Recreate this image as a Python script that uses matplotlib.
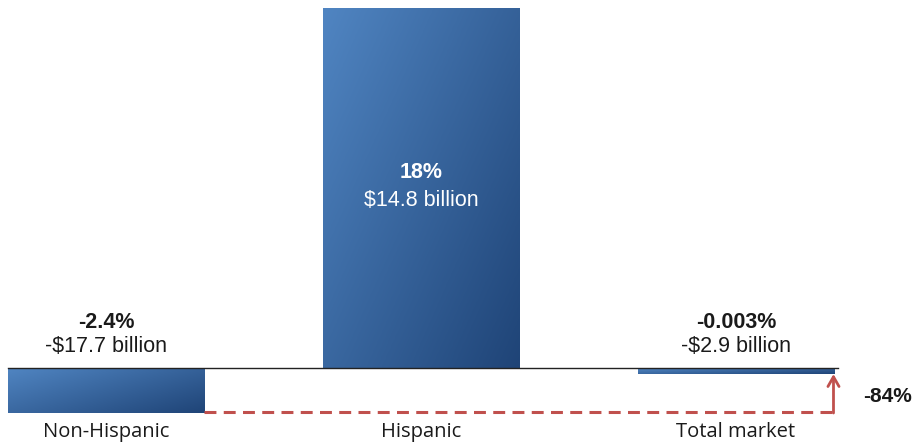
import numpy as np
import matplotlib
matplotlib.use("Agg")
import matplotlib.pyplot as plt
from matplotlib.colors import LinearSegmentedColormap

categories = ["Non-Hispanic", "Hispanic", "Total market"]
bar_heights = [-2.25, 18.0, -0.28]          # bar lengths as drawn (percent-ish scale)
pct_labels = ["-2.4%", "18%", "-0.003%"]
dollar_labels = ["-$17.7 billion", "$14.8 billion", "-$2.9 billion"]
gap_label = "-84%"

W, H = 914, 445
fig = plt.figure(figsize=(W / 100, H / 100), dpi=100)
ax = fig.add_axes([0, 0, 1, 1])
ax.axis("off")

val_font = ["Liberation Sans", "DejaVu Sans"]
cat_font = ["Open Sans", "DejaVu Sans"]

cmap = LinearSegmentedColormap.from_list("g", ["#5085C2", "#1F4477"])
width = 0.625
x = np.arange(len(categories))
bars = ax.bar(x, bar_heights, width=width, color="none", edgecolor="none", zorder=2)

# gradient fill per bar (top-left light -> bottom-right dark)
gy, gx = np.mgrid[0:1:200j, 0:1:200j]
grad = (gx * 0.55 + gy * 0.45)
for b in bars:
    x0, y0 = b.get_x(), min(b.get_y(), b.get_y() + b.get_height())
    x1, y1 = x0 + b.get_width(), max(b.get_y(), b.get_y() + b.get_height())
    im = ax.imshow(grad, cmap=cmap, extent=[x0, x1, y0, y1], origin="upper",
                   aspect="auto", zorder=2, vmin=0, vmax=1)
    im.set_clip_path(b)

ax.set_xlim(-106 / 315, (W - 106) / 315)
ax.set_ylim(-(H - 368) / 20, 368 / 20)

# baseline
ax.plot([-0.3125, 2.325], [0, 0], color="#222222", lw=1.0, zorder=3)

# dashed reference line and arrow
red = "#C0504D"
xr = x[2] + width / 2 - 0.003
ax.plot([x[0] + width / 2, xr], [-2.2, -2.2], color=red, lw=2.2,
        dashes=(3.9, 2.4), zorder=3)
ax.annotate("", xy=(xr, bar_heights[2] - 0.02), xytext=(xr, -2.2 - 0.05),
            arrowprops=dict(arrowstyle="->,head_length=0.7,head_width=0.4",
                            color=red, lw=2.0, shrinkA=0, shrinkB=0), zorder=4)
ax.text((888 - 106) / 315, (368 - 396) / 20, gap_label, ha="center", va="center",
        fontsize=15, fontweight="bold", color="#1a1a1a", family=val_font)

# value labels
for i in range(3):
    if bar_heights[i] > 0:
        c = "white"
        y_pct, y_dol = (368 - 172) / 20, (368 - 200) / 20
    else:
        c = "#1a1a1a"
        y_pct, y_dol = (368 - 322) / 20, (368 - 347) / 20
    ax.text(x[i], y_pct, pct_labels[i], ha="center", va="center", fontsize=15.5,
            fontweight="bold", color=c, family=val_font)
    ax.text(x[i], y_dol, dollar_labels[i], ha="center", va="center", fontsize=15.5,
            color=c, family=val_font)
    ax.text(x[i], (368 - 432) / 20, categories[i], ha="center", va="center",
            fontsize=14.5, color="#1a1a1a", family=cat_font)

fig.savefig("out.png", dpi=100)
